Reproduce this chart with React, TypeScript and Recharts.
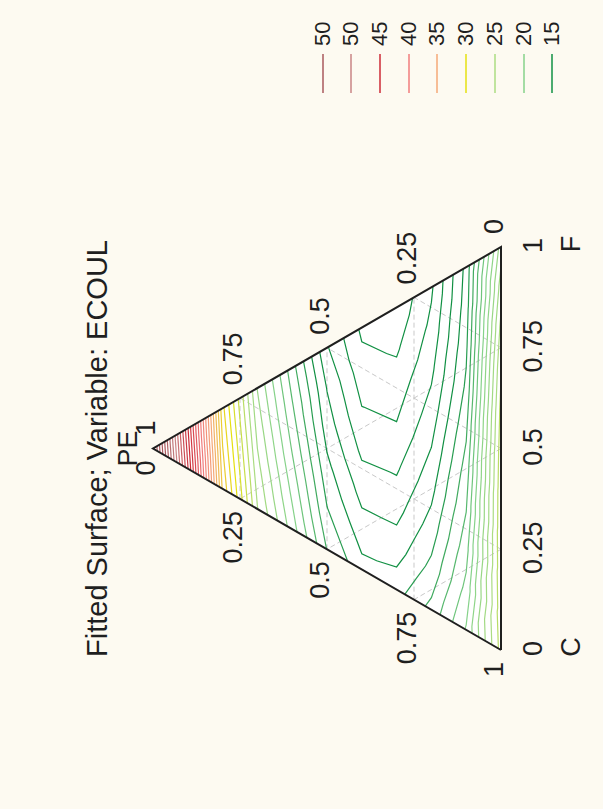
import React from 'react';
import { ComposedChart, Area, Scatter, XAxis, YAxis, Legend } from 'recharts';

type Pt = { u: number; e: number; label?: string };

const chartTitle = 'Fitted Surface; Variable: ECOUL';
const vertexNames = { c: 'C', e: 'PE', f: 'F' };
const tickValues = [0, 0.25, 0.5, 0.75, 1];
const tickLabels = ['0', '0.25', '0.5', '0.75', '1'];
const gridValues = [0.25, 0.5, 0.75];

// legend rows, top first
const legendLabels = ['50', '50', '45', '40', '35', '30', '25', '20', '15'];
const legendColors = [
  '#a9585c', '#c98484', '#cc2a36', '#f07c7c', '#f5a877',
  '#e5e010', '#abdc82', '#86d28a', '#119043',
];
// level at which each legend colour is reached when shading contour lines
const shadeLevels = [52, 48, 43, 38, 34, 28, 24, 20, 15];

const contourLevels = [
  11, 12, 13, 14, 15, 16, 17, 18, 19, 20, 21, 22, 23, 24, 25, 26, 27, 28, 29, 30,
  31, 32, 33, 34, 35, 36, 37, 38, 39, 40, 41, 42, 43, 44, 45, 46, 47, 48, 49, 50,
  51, 52, 53, 54, 55, 56,
];

// fitted ECOUL on the 0.1 mixture grid: one array per PE level, entries for F = 0, 0.1, 0.2 ...
const ecoulE00 = [25.4, 25.6, 25.7, 25.75, 25.7, 25.55, 25.3, 24.9, 24.3, 23.5, 22.5];
const ecoulE01 = [20.1, 19.3, 18.6, 17.95, 17.4, 16.8, 16.2, 15.8, 15.5, 15.3];
const ecoulE02 = [17.3, 16.3, 15.45, 14.7, 14.02, 13.35, 12.75, 12.25, 11.85];
const ecoulE03 = [15.6, 14.53, 13.65, 12.87, 12.1, 11.5, 10.85, 10.28];
const ecoulE04 = [15.35, 14.45, 13.6, 12.75, 12.03, 11.37, 10.8];
const ecoulE05 = [16.95, 16.05, 15.3, 14.55, 13.95, 13.1];
const ecoulE06 = [20.5, 19.7, 18.9, 18.15, 17.4];
const ecoulE07 = [24.05, 23.35, 22.65, 21.95];
const ecoulE08 = [30.8, 30.05, 29.3];
const ecoulE09 = [44.1, 43.1];
const ecoulE10 = [56.5];

const ecoulRows = [
  ecoulE00, ecoulE01, ecoulE02, ecoulE03, ecoulE04, ecoulE05,
  ecoulE06, ecoulE07, ecoulE08, ecoulE09, ecoulE10,
];

// chart is laid out landscape and turned a quarter turn for the page
const W = 809;
const H = 603;
const SIDE = 403;
const TRI_H = 348;
const LEFT = 159;
const BASE = 501;
const xDomain = [-LEFT / SIDE, (W - LEFT) / SIDE];
const yDomain = [-(H - BASE) / TRI_H, BASE / TRI_H];

const BG = '#fdfaf1';
const INK = '#1f1f1f';
const FONT = '"Liberation Sans", Arial, Helvetica, sans-serif';

// ternary (PE, F) -> plane; C is whatever is left
const toPlane = (e: number, f: number): Pt => ({ u: f + e / 2, e });

const triangleArea = [toPlane(0, 0), toPlane(1, 0), toPlane(0, 1)];
const outline = [toPlane(0, 0), toPlane(1, 0), toPlane(0, 1), toPlane(0, 0)];

const gridLines: Pt[][] = gridValues.flatMap((g) => [
  [toPlane(g, 0), toPlane(g, 1 - g)],
  [toPlane(0, g), toPlane(1 - g, g)],
  [toPlane(0, 1 - g), toPlane(1 - g, 0)],
]);

const fTicks = tickValues.map((t, k) => ({ ...toPlane(0, t), label: tickLabels[k] }));
const eTicks = tickValues.map((t, k) => ({ ...toPlane(t, 1 - t), label: tickLabels[k] }));
const cTicks = tickValues.map((t, k) => ({ ...toPlane(1 - t, 0), label: tickLabels[k] }));

const nodeAt = (i: number, j: number) => toPlane(i / 10, j / 10);

const meshTriangles: [number, number][][] = [];
for (let i = 0; i < 10; i++) {
  for (let j = 0; j <= 9 - i; j++) {
    meshTriangles.push([[i, j], [i, j + 1], [i + 1, j]]);
    if (j <= 8 - i) meshTriangles.push([[i, j + 1], [i + 1, j], [i + 1, j + 1]]);
  }
}

// marching triangles over the grid, joined into polylines
function traceLevel(level: number): Pt[][] {
  type Seg = { k: [string, string]; p: [Pt, Pt] };
  const segs: Seg[] = [];
  for (const tri of meshTriangles) {
    const v = tri.map(([i, j]) => ecoulRows[i][j]);
    const hits: { k: string; p: Pt }[] = [];
    for (const [a, b] of [[0, 1], [1, 2], [2, 0]]) {
      if ((v[a] >= level) === (v[b] >= level)) continue;
      const t = (level - v[a]) / (v[b] - v[a]);
      const pa = nodeAt(tri[a][0], tri[a][1]);
      const pb = nodeAt(tri[b][0], tri[b][1]);
      const ka = tri[a].join(',');
      const kb = tri[b].join(',');
      hits.push({
        k: ka < kb ? `${ka}|${kb}` : `${kb}|${ka}`,
        p: { u: pa.u + t * (pb.u - pa.u), e: pa.e + t * (pb.e - pa.e) },
      });
    }
    if (hits.length === 2) segs.push({ k: [hits[0].k, hits[1].k], p: [hits[0].p, hits[1].p] });
  }

  const byKey = new Map<string, number[]>();
  segs.forEach((s, n) => s.k.forEach((k) => byKey.set(k, [...(byKey.get(k) ?? []), n])));
  const used = segs.map(() => false);

  const follow = (start: number, key: string) => {
    const line: Pt[] = [];
    let n = start;
    let k = key;
    while (n >= 0 && !used[n]) {
      used[n] = true;
      const s = segs[n];
      const side = s.k[0] === k ? 0 : 1;
      if (!line.length) line.push(s.p[side]);
      line.push(s.p[1 - side]);
      k = s.k[1 - side];
      const next = (byKey.get(k) ?? []).find((m) => !used[m]);
      n = next ?? -1;
    }
    return line;
  };

  const lines: Pt[][] = [];
  byKey.forEach((ids, k) => {
    if (ids.length === 1 && !used[ids[0]]) lines.push(follow(ids[0], k));
  });
  segs.forEach((s, n) => {
    if (!used[n]) {
      const loop = follow(n, s.k[0]);
      loop.push(loop[0]);
      lines.push(loop);
    }
  });
  return lines;
}

// blend between the two legend colours around a level
const hexRgb = (h: string) => [1, 3, 5].map((o) => parseInt(h.slice(o, o + 2), 16));
const shadeFor = (level: number) => {
  const n = shadeLevels.length;
  if (level >= shadeLevels[0]) return legendColors[0];
  if (level <= shadeLevels[n - 1]) return legendColors[n - 1];
  for (let i = 0; i < n - 1; i++) {
    const hi = shadeLevels[i];
    const lo = shadeLevels[i + 1];
    if (level <= hi && level >= lo) {
      const t = (level - lo) / (hi - lo);
      const a = hexRgb(legendColors[i + 1]);
      const b = hexRgb(legendColors[i]);
      return `rgb(${a.map((c, k) => Math.round(c + (b[k] - c) * t)).join(',')})`;
    }
  }
  return legendColors[n - 1];
};

const contours = contourLevels.flatMap((level) =>
  traceLevel(level).map((pts, n) => ({ key: `c${level}-${n}`, pts, color: shadeFor(level) })),
);

const noMarker = () => <g />;

const textAt = (dx: number, dy: number, anchor: 'start' | 'middle' | 'end', size: number) =>
  (props: any) => (
    <text
      x={props.cx + dx}
      y={props.cy + dy}
      textAnchor={anchor}
      fontSize={size}
      fontFamily={FONT}
      fill={INK}
    >
      {props.payload.label}
    </text>
  );

const renderLegend = () => (
  <div style={{ width: 99, fontFamily: FONT, fontSize: 22, color: INK }}>
    {legendLabels.map((lab, k) => (
      <div key={k} style={{ height: 28.7, display: 'flex', alignItems: 'center' }}>
        <svg width={50} height={4} style={{ display: 'block' }}>
          <line x1={6} x2={45} y1={2} y2={2} stroke={legendColors[k]} strokeWidth={1.5} />
        </svg>
        <span style={{ marginLeft: 3, lineHeight: 1 }}>{lab}</span>
      </div>
    ))}
  </div>
);

export default function App() {
  return (
    <div
      style={{
        position: 'absolute', left: 0, top: 0, width: H, height: W,
        background: BG, overflow: 'hidden',
      }}
    >
      <div
        style={{
          position: 'absolute', left: 0, top: 0, width: W, height: H,
          transformOrigin: '0 0', transform: `translateY(${W}px) rotate(-90deg)`,
        }}
      >
        <div
          style={{
            position: 'absolute', left: 60.5, top: 82.5, width: 600, textAlign: 'center',
            fontFamily: FONT, fontSize: 29, lineHeight: '29px', color: INK, whiteSpace: 'nowrap',
          }}
        >
          {chartTitle}
        </div>
        <ComposedChart
          width={W}
          height={H}
          data={triangleArea}
          margin={{ top: 0, right: 0, bottom: 0, left: 0 }}
        >
          <XAxis type="number" dataKey="u" domain={xDomain} allowDataOverflow hide />
          <YAxis type="number" dataKey="e" domain={yDomain} allowDataOverflow hide />
          <Area
            type="linear"
            dataKey="e"
            baseValue={0}
            fill="#ffffff"
            fillOpacity={1}
            stroke="none"
            dot={false}
            activeDot={false}
            isAnimationActive={false}
          />
          {gridLines.map((pts, n) => (
            <Scatter
              key={`g${n}`}
              data={pts}
              fill="#c9c9c9"
              line={{ stroke: '#c9c9c9', strokeWidth: 1, strokeDasharray: '5 3' }}
              shape={noMarker}
              isAnimationActive={false}
            />
          ))}
          {contours.map((c) => (
            <Scatter
              key={c.key}
              data={c.pts}
              fill={c.color}
              line={{ stroke: c.color, strokeWidth: 1.2 }}
              shape={noMarker}
              isAnimationActive={false}
            />
          ))}
          <Scatter
            data={outline}
            fill={INK}
            line={{ stroke: INK, strokeWidth: 2 }}
            shape={noMarker}
            isAnimationActive={false}
          />
          <Scatter data={fTicks} shape={textAt(1.5, 41, 'middle', 27)} isAnimationActive={false} />
          <Scatter data={eTicks} shape={textAt(13, 2, 'start', 27)} isAnimationActive={false} />
          <Scatter data={cTicks} shape={textAt(-12, 2, 'end', 27)} isAnimationActive={false} />
          <Scatter
            data={[
              { ...toPlane(0, 0), label: vertexNames.c },
              { ...toPlane(0, 1), label: vertexNames.f },
            ]}
            shape={textAt(3, 79, 'middle', 27)}
            isAnimationActive={false}
          />
          <Scatter
            data={[{ ...toPlane(1, 0), label: vertexNames.e }]}
            shape={textAt(0, -16, 'middle', 27)}
            isAnimationActive={false}
          />
          <Legend
            layout="vertical"
            align="center"
            verticalAlign="middle"
            wrapperStyle={{ left: 710, top: 308.35, width: 99 }}
            content={renderLegend}
          />
        </ComposedChart>
      </div>
    </div>
  );
}
